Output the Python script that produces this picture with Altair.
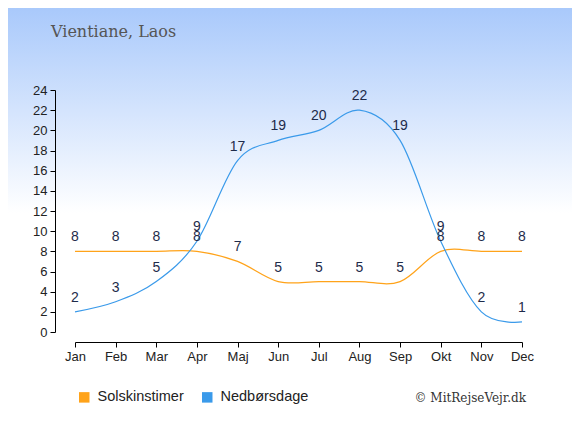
import altair as alt
import pandas as pd

months = ["Jan", "Feb", "Mar", "Apr", "Maj", "Jun", "Jul", "Aug", "Sep", "Okt", "Nov", "Dec"]
sun_hours = [8, 8, 8, 8, 7, 5, 5, 5, 5, 8, 8, 8]
rain_days = [2, 3, 5, 9, 17, 19, 20, 22, 19, 9, 2, 1]
series_names = ["Solskinstimer", "Nedbørsdage"]
series_colors = ["#ffa31a", "#3a9aea"]
y_ticks = list(range(0, 25, 2))

rows = []
for m, s in zip(months, sun_hours):
    rows.append({"month": m, "value": s, "series": series_names[0]})
for m, r in zip(months, rain_days):
    rows.append({"month": m, "value": r, "series": series_names[1]})
df = pd.DataFrame(rows)

W, H = 447, 242
PL, PT = 67, 82
TOTAL_W, TOTAL_H = 564, 410

bg = alt.Chart(pd.DataFrame({"a": [0]})).mark_rect(
    fill=alt.Gradient(
        gradient="linear",
        stops=[
            alt.GradientStop(color="#a9c9fb", offset=0),
            alt.GradientStop(color="#ffffff", offset=0.5),
            alt.GradientStop(color="#ffffff", offset=1),
        ],
        x1=0, y1=0, x2=0, y2=1,
    )
).encode(
    x=alt.value(-PL), x2=alt.value(TOTAL_W - PL),
    y=alt.value(-PT), y2=alt.value(TOTAL_H - PT),
)

axis_style = dict(title=None, domainColor="#000", tickColor="#000", tickSize=5,
                  labelFontSize=13, labelColor="#222", labelFont="Liberation Sans",
                  labelPadding=3, grid=False, zindex=2, labelOverlap=False)

x_enc = alt.X(
    "month:N", sort=months,
    scale=alt.Scale(type="point", padding=0),
    axis=alt.Axis(labelAngle=0, offset=10, **axis_style),
)
y_enc = alt.Y(
    "value:Q", scale=alt.Scale(domain=[0, 24], nice=False),
    axis=alt.Axis(values=y_ticks, tickCount=13, offset=20, **axis_style),
)
color_enc = alt.Color(
    "series:N",
    scale=alt.Scale(domain=series_names, range=series_colors),
    sort=series_names,
    legend=alt.Legend(
        title=None, orient="none", legendX=2, legendY=300, direction="horizontal",
        symbolType="square", symbolSize=110, labelFontSize=14.5, labelColor="#222",
        labelFont="Liberation Sans", columnPadding=16, labelOffset=6,
        symbolStrokeWidth=0, symbolOpacity=1, zindex=2,
    ),
)

keys = alt.Chart(df).mark_point(filled=True, shape="square", size=0, opacity=1).encode(
    x=x_enc, y=y_enc, color=color_enc
)

lines = alt.Chart(df).mark_line(interpolate="cardinal", strokeWidth=1.2).encode(
    x=x_enc, y=y_enc, color=color_enc
)

labels = alt.Chart(df).mark_text(dy=-14, fontSize=14, color="#1e2b4a", font="Liberation Sans").encode(
    x=x_enc, y=y_enc, text="value:Q"
)

title = alt.Chart(pd.DataFrame({"t": ["Vientiane, Laos"]})).mark_text(
    font="DejaVu Serif", fontSize=16, color="#555", align="left", baseline="alphabetic"
).encode(text="t:N", x=alt.value(51 - 75), y=alt.value(37 - 90))

credit = alt.Chart(pd.DataFrame({"t": ["© MitRejseVejr.dk"]})).mark_text(
    font="DejaVu Serif", fontSize=12, color="#333", align="right", baseline="middle"
).encode(text="t:N", x=alt.value(526 - 75), y=alt.value(398 - 90))

chart = alt.layer(bg, keys, lines, labels, title, credit).properties(
    width=W, height=H,
    autosize=alt.AutoSizeParams(type="none"),
    padding={"left": PL, "top": PT, "right": TOTAL_W - PL - W, "bottom": TOTAL_H - PT - H},
).configure_view(stroke=None)

chart.save("out.html", embed_options={"renderer": "svg", "actions": False})
